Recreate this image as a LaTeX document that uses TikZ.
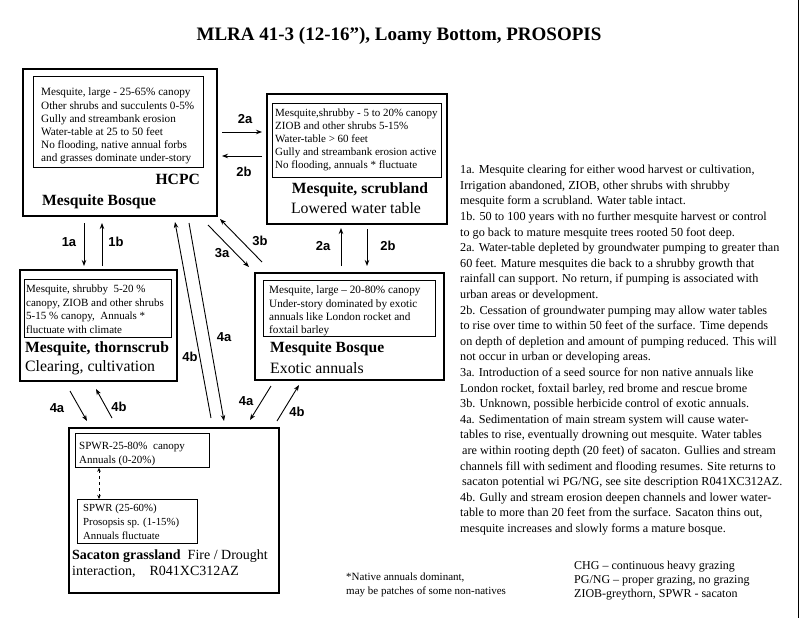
\documentclass[tikz,border=0pt]{standalone}
\usepackage{fontspec}
\setmainfont{Liberation Serif}
\newfontfamily\labfont{Liberation Sans}
\usetikzlibrary{arrows.meta}
\begin{document}
\begin{tikzpicture}[x=1pt,y=-1pt,
  outer/.style={draw, line width=1.8pt, anchor=north west, inner sep=0pt},
  inbox/.style={draw, line width=0.8pt, anchor=north west, inner sep=0pt},
  boxtxt/.style={anchor=north west, align=left, inner sep=0pt, font=\fontsize{11.2}{13.2}\selectfont},
  ttl/.style={inner sep=0pt, font=\fontsize{15.6}{18}\selectfont\bfseries},
  sub/.style={inner sep=0pt, font=\fontsize{15.8}{18}\selectfont},
  lab/.style={inner sep=0pt, font=\fontsize{13}{15}\selectfont\labfont\bfseries},
  arr/.style={line width=0.9pt, -{Stealth[length=6pt,width=4.5pt]}},
  note/.style={anchor=north west, align=left, inner sep=0pt, font=\fontsize{11}{14}\selectfont}
]
\useasboundingbox (0,0) rectangle (800,618);
\fill[white] (0,0) rectangle (800,618);
\draw[line width=1pt] (798,0) -- (798,618);

% title
\node[inner sep=0pt, font=\fontsize{19}{22}\selectfont\bfseries] (title) at (399,36) {MLRA 41-3 (12-16”), Loamy Bottom, PROSOPIS};

% Box 1 HCPC
\node[outer, minimum width=194pt, minimum height=147pt] (b1) at (22,68) {};
\node[inbox, minimum width=170pt, minimum height=91pt] (b1i) at (33,76) {};
\node[boxtxt] (b1t) at (41,88) {Mesquite, large - 25-65\% canopy\\Other shrubs and succulents 0-5\%\\Gully and streambank erosion\\Water-table at 25 to 50 feet\\No flooding, native annual forbs\\and grasses dominate under-story};
\node[ttl, anchor=east] (b1h) at (200,179) {HCPC};
\node[ttl, anchor=west] (b1n) at (42,202) {Mesquite Bosque};

% Box 2 scrubland
\node[outer, minimum width=180pt, minimum height=130pt] (b2) at (266,93) {};
\node[inbox, minimum width=169pt, minimum height=74pt] (b2i) at (272,103) {};
\node[boxtxt, font=\fontsize{11}{13}\selectfont] (b2t) at (275,109) {Mesquite,shrubby - 5 to 20\% canopy\\ZIOB and other shrubs 5-15\%\\Water-table > 60 feet\\Gully and streambank erosion active\\No flooding, annuals * fluctuate};
\node[ttl] (b2n) at (360,190) {Mesquite, scrubland};
\node[sub] (b2s) at (356,208) {Lowered water table};

% Box 3 thornscrub
\node[outer, minimum width=157pt, minimum height=111pt] (b3) at (19,269) {};
\node[inbox, minimum width=147pt, minimum height=58pt] (b3i) at (24,279) {};
\node[boxtxt, font=\fontsize{11}{13.5}\selectfont] (b3t) at (26,285) {Mesquite, shrubby\ \ 5-20 \%\\canopy, ZIOB and other shrubs\\5-15 \% canopy,\ \ Annuals *\\fluctuate with climate};
\node[ttl, anchor=west] (b3n) at (25,349) {Mesquite, thornscrub};
\node[sub, anchor=west] (b3s) at (25,368) {Clearing, cultivation};

% Box 4 exotic
\node[outer, minimum width=189pt, minimum height=107pt] (b4) at (254,272) {};
\node[inbox, minimum width=172pt, minimum height=56pt] (b4i) at (263,280) {};
\node[boxtxt, font=\fontsize{11.2}{13.3}\selectfont] (b4t) at (269,286) {Mesquite, large -- 20-80\% canopy\\Under-story dominated by exotic\\annuals like London rocket and\\foxtail barley};
\node[ttl, anchor=west] (b4n) at (270,349) {Mesquite Bosque};
\node[sub, anchor=west] (b4s) at (270,368) {Exotic annuals};

% Box 5 sacaton
\node[outer, minimum width=210pt, minimum height=165pt] (b5) at (68,427) {};
\node[inbox, minimum width=134pt, minimum height=34pt] (b5a) at (75,433) {};
\node[boxtxt, font=\fontsize{11}{13.5}\selectfont] (b5at) at (79,442) {SPWR-25-80\%\ \ canopy\\Annuals (0-20\%)};
\node[inbox, minimum width=120pt, minimum height=44pt] (b5b) at (77,499) {};
\node[boxtxt, font=\fontsize{10.8}{14}\selectfont] (b5bt) at (83,504) {SPWR (25-60\%)\\Prosopsis sp. (1-15\%)\\Annuals fluctuate};
\node[anchor=north west, align=left, inner sep=0pt, font=\fontsize{14}{15.5}\selectfont] (b5n) at (72,550) {\textbf{Sacaton grassland}\ \ Fire / Drought\\interaction,\ \ \ \ R041XC312AZ};
\draw[line width=0.8pt, dashed, {Stealth[length=4pt,width=3.5pt]}-{Stealth[length=4pt,width=3.5pt]}] (b5a.south -| 99,0) -- (b5b.north -| 99,0);

% arrows 2a/2b horizontal
\coordinate (h1) at (222,132); \coordinate (h2) at (262,132);
\coordinate (h3) at (262,156); \coordinate (h4) at (222,156);
\draw[arr] (h1) -- (h2);
\draw[arr] (h3) -- (h4);
\node[lab] (l2a) at (245,119) {2a};
\node[lab] (l2b) at (244,172) {2b};

% 1a/1b
\coordinate (v1) at (84,223); \coordinate (v2) at (84,266);
\coordinate (v3) at (102,266); \coordinate (v4) at (102,223);
\draw[arr] (v1) -- (v2);
\draw[arr] (v3) -- (v4);
\node[lab] (l1a) at (69,242) {1a};
\node[lab] (l1b) at (116,242) {1b};

% 3a/3b
\coordinate (d1) at (208,225); \coordinate (d2) at (249,267);
\coordinate (d3) at (262,262); \coordinate (d4) at (220,219);
\draw[arr] (d1) -- (d2);
\draw[arr] (d3) -- (d4);
\node[lab] (l3a) at (222,253) {3a};
\node[lab] (l3b) at (260,241) {3b};

% 2a/2b vertical
\coordinate (u1) at (341,266); \coordinate (u2) at (341,228);
\coordinate (u3) at (367,229); \coordinate (u4) at (367,266);
\draw[arr] (u1) -- (u2);
\draw[arr] (u3) -- (u4);
\node[lab] (l2a2) at (323,246) {2a};
\node[lab] (l2b2) at (388,246) {2b};

% long 4a/4b
\coordinate (g1) at (189,223); \coordinate (g2) at (224,421);
\coordinate (g3) at (211,418); \coordinate (g4) at (175,222);
\draw[arr] (g1) -- (g2);
\draw[arr] (g3) -- (g4);
\node[lab] (l4a) at (224,337) {4a};
\node[lab] (l4b) at (190,357) {4b};

% left 4a/4b
\coordinate (k1) at (70,391); \coordinate (k2) at (87,421);
\coordinate (k3) at (112,418); \coordinate (k4) at (96,389);
\draw[arr] (k1) -- (k2);
\draw[arr] (k3) -- (k4);
\node[lab] (l4a2) at (57,408) {4a};
\node[lab] (l4b2) at (119,407) {4b};

% right 4a/4b
\coordinate (m1) at (271,386); \coordinate (m2) at (250,420);
\coordinate (m3) at (277,421); \coordinate (m4) at (299,385);
\draw[arr] (m1) -- (m2);
\draw[arr] (m3) -- (m4);
\node[lab] (l4a3) at (246,401) {4a};
\node[lab] (l4b3) at (297,412) {4b};

% right text
\node[anchor=north west, align=left, inner sep=0pt, font=\fontsize{12.2}{15.6}\selectfont] (rt) at (460,165) {%
1a. Mesquite clearing for either wood harvest or cultivation,\\
Irrigation abandoned, ZIOB, other shrubs with shrubby\\
mesquite form a scrubland. Water table intact.\\
1b. 50 to 100 years with no further mesquite harvest or control\\
to go back to mature mesquite trees rooted 50 foot deep.\\
2a. Water-table depleted by groundwater pumping to greater than\\
60 feet. Mature mesquites die back to a shrubby growth that\\
rainfall can support. No return, if pumping is associated with\\
urban areas or development.\\
2b. Cessation of groundwater pumping may allow water tables\\
to rise over time to within 50 feet of the surface. Time depends\\
on depth of depletion and amount of pumping reduced. This will\\
not occur in urban or developing areas.\\
3a. Introduction of a seed source for non native annuals like\\
London rocket, foxtail barley, red brome and rescue brome\\
3b. Unknown, possible herbicide control of exotic annuals.\\
4a. Sedimentation of main stream system will cause water-\\
tables to rise, eventually drowning out mesquite. Water tables\\
\hspace*{2pt}are within rooting depth (20 feet) of sacaton. Gullies and stream\\
channels fill with sediment and flooding resumes. Site returns to\\
\hspace*{2pt}sacaton potential wi PG/NG, see site description R041XC312AZ.\\
4b. Gully and stream erosion deepen channels and lower water-\\
table to more than 20 feet from the surface. Sacaton thins out,\\
mesquite increases and slowly forms a mature bosque.};

% notes
\node[note] (n1) at (346,573) {*Native annuals dominant,\\may be patches of some non-natives};
\node[note, font=\fontsize{12}{14}\selectfont] (n2) at (574,561) {CHG -- continuous heavy grazing\\PG/NG -- proper grazing, no grazing\\ZIOB-greythorn, SPWR - sacaton};
\end{tikzpicture}
\end{document}
